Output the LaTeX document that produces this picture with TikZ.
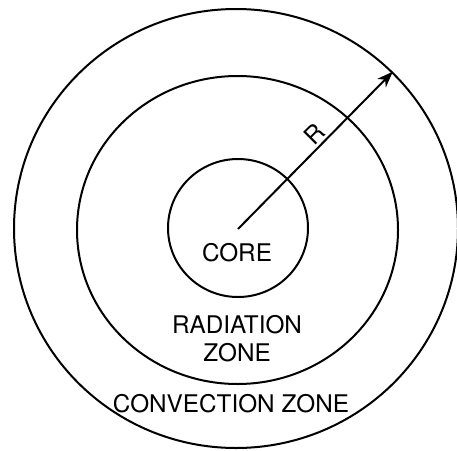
\documentclass[tikz,border=0pt]{standalone}
\usepackage{fontspec}
\setmainfont{TeX Gyre Heros}
\usetikzlibrary{shapes.geometric,arrows.meta}
\begin{document}
\begin{tikzpicture}[x=1pt,y=-1pt,
  ring/.style={draw,ellipse,line width=2pt,inner sep=0pt},
  lbl/.style={font=\fontsize{24.3}{28}\selectfont,inner sep=0pt,align=center}]
\useasboundingbox (0,0) rectangle (457,450);
\node[ring,minimum width=444pt,minimum height=439pt] (outer) at (236,228.5) {};
\node[ring,minimum width=321pt,minimum height=308pt] (middle) at (237.5,230) {};
\node[ring,minimum width=140pt,minimum height=138pt] (core) at (238,228) {};
\coordinate (c) at (238,229);
\draw[line width=2pt,-{Stealth[length=16pt,width=12pt,inset=5pt]}] (c) -- (outer.45);
\node[lbl,rotate=45] (r) at (314,134) {R};
\node[lbl] (corelbl) at (237,253) {CORE};
\node[lbl] (rad) at (237,339) {RADIATION\\ZONE};
\node[lbl] (conv) at (231,404) {CONVECTION ZONE};
\end{tikzpicture}
\end{document}
